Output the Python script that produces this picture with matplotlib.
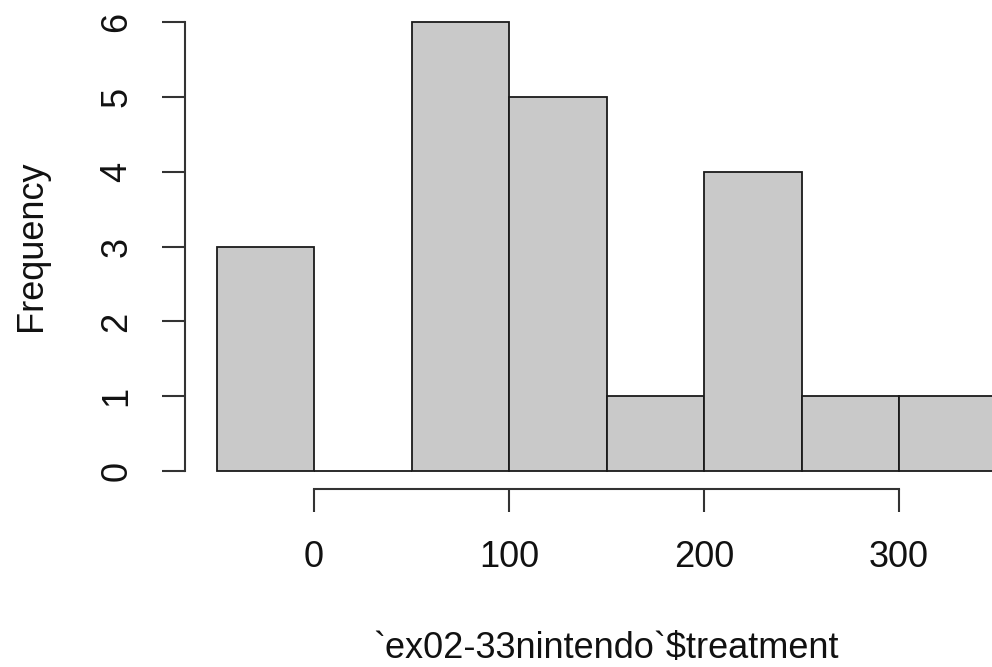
import matplotlib
matplotlib.use("Agg")
import matplotlib.pyplot as plt
import numpy as np

bin_edges = [-50, 0, 50, 100, 150, 200, 250, 300, 350]
counts = [3, 0, 6, 5, 1, 4, 1, 1]
x_ticks = [0, 100, 200, 300]
y_ticks = [0, 1, 2, 3, 4, 5, 6]
xlabel = "`ex02-33nintendo`$treatment"
ylabel = "Frequency"

W, H = 992, 667
fig = plt.figure(figsize=(W / 100, H / 100), dpi=100)
plt.rcParams['font.family'] = ['Liberation Sans', 'DejaVu Sans']

# pixel geometry
px_per_x = 1.95
x0_px = 314.0
px_per_y = 74.8
y0_px = 471.0
left_px, right_px = 185.0, 992.0
top_px, bottom_px = 0.0, 489.0

ax = fig.add_axes([left_px / W, 1 - bottom_px / H, (right_px - left_px) / W, (bottom_px - top_px) / H])
ax.set_xlim((left_px - x0_px) / px_per_x, (right_px - x0_px) / px_per_x)
ax.set_ylim((y0_px - bottom_px) / px_per_y, (y0_px - top_px) / px_per_y)

edges = np.array(bin_edges)
ax.bar(edges[:-1], counts, width=np.diff(edges), align='edge',
       color='#c9c9c9', edgecolor='#1a1a1a', linewidth=1.3, clip_on=True)

for s in ['top', 'right']:
    ax.spines[s].set_visible(False)
ax.spines['left'].set_bounds(0, 6)
ax.spines['bottom'].set_bounds(0, 300)
for s in ['left', 'bottom']:
    ax.spines[s].set_linewidth(1.5)
    ax.spines[s].set_color('#333333')

ax.set_xticks(x_ticks)
ax.set_yticks(y_ticks)
ax.tick_params(axis='both', length=16.5, width=1.5, color='#333333', labelsize=26, labelcolor='#111111')
ax.tick_params(axis='x', pad=20)
ax.tick_params(axis='y', pad=20)
for lab in ax.get_yticklabels():
    lab.set_rotation(90)
    lab.set_va('center')

fig.text(606 / W, 1 - 648 / H, xlabel, ha='center', va='center', fontsize=26, color='#111111')
fig.text(32 / W, 1 - 246 / H, ylabel, ha='center', va='center', rotation=90, fontsize=26, color='#111111')

fig.savefig("out.png", dpi=100)
